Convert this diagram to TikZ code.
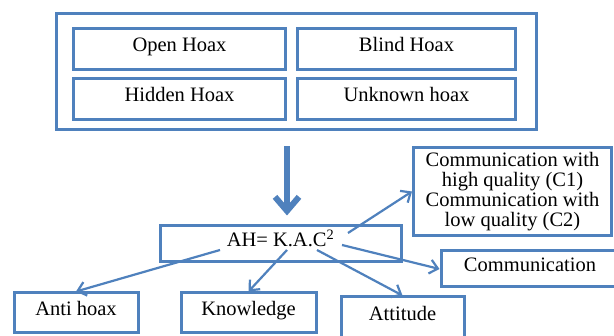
\documentclass[tikz,border=0pt]{standalone}
\usepackage{fontspec}
\setmainfont{Liberation Serif}
\usetikzlibrary{arrows.meta}
\definecolor{boxblue}{RGB}{79,129,189}
\begin{document}
\begin{tikzpicture}[x=1pt, y=-1pt,
    font=\fontsize{20.5}{20}\selectfont,
    hoaxbox/.style={draw=boxblue, line width=3pt, inner sep=2pt, minimum height=#1},
    hoaxbox/.default=41pt,
    oneline/.style={text height=13pt, text depth=7.5pt},
    thinarrow/.style={draw=boxblue, line width=2.2pt, -{Straight Barb[length=8pt,width=14pt]}},
    bigarrow/.style={draw=boxblue, line width=6pt, -{Straight Barb[length=14pt,width=24pt]}}]
  \path[use as bounding box, clip] (0,0) rectangle (614,336);
  \fill[white] (0,0) rectangle (614,336);
  % kinds of hoax
  \node[hoaxbox=116pt, minimum width=480pt] (types) at (296,72) {};
  \node[hoaxbox, oneline, minimum width=212pt] (open) at (179.5,49) {Open Hoax};
  \node[hoaxbox, oneline, minimum width=218pt] (blind) at (406.5,49) {Blind Hoax};
  \node[hoaxbox, oneline, minimum width=212pt] (hidden) at (179.5,99) {Hidden Hoax};
  \node[hoaxbox, oneline, minimum width=218pt] (unknown) at (406.5,99) {Unknown hoax};
  % formula and its parts
  \node[hoaxbox=36pt, oneline, minimum width=241pt] (ah) at (280.5,244) {AH= K.A.C\textsuperscript{2}};
  \node[hoaxbox=40pt, oneline, minimum width=124pt] (anti) at (76,313) {Anti hoax};
  \node[hoaxbox=40pt, oneline, minimum width=135pt] (know) at (248.5,313) {Knowledge};
  \node[hoaxbox=42pt, oneline, minimum width=123pt] (att) at (402.5,318) {Attitude};
  \node[hoaxbox=36pt, oneline, minimum width=178pt] (comm) at (530,269) {Communication};
  \node[hoaxbox=88pt, minimum width=198pt, align=center] (cq) at (512.5,191.5)
    {Communication with\\high quality (C1)\\Communication with\\low quality (C2)};
  \draw[bigarrow] ([xshift=-9pt,yshift=-15pt]types.south) -- ([xshift=6.5pt,yshift=9pt]ah.north);
  \foreach \dx/\dy/\target in {
    -60.5/-6/anti.north, 6.5/-6/know.north,
    36.5/-6/att.north, 61.5/-1/comm.west,
    67.5/11/cq.west} {
    \draw[thinarrow] ([xshift=\dx pt, yshift=\dy pt]ah.center) -- (\target);
  }
\end{tikzpicture}
\end{document}
